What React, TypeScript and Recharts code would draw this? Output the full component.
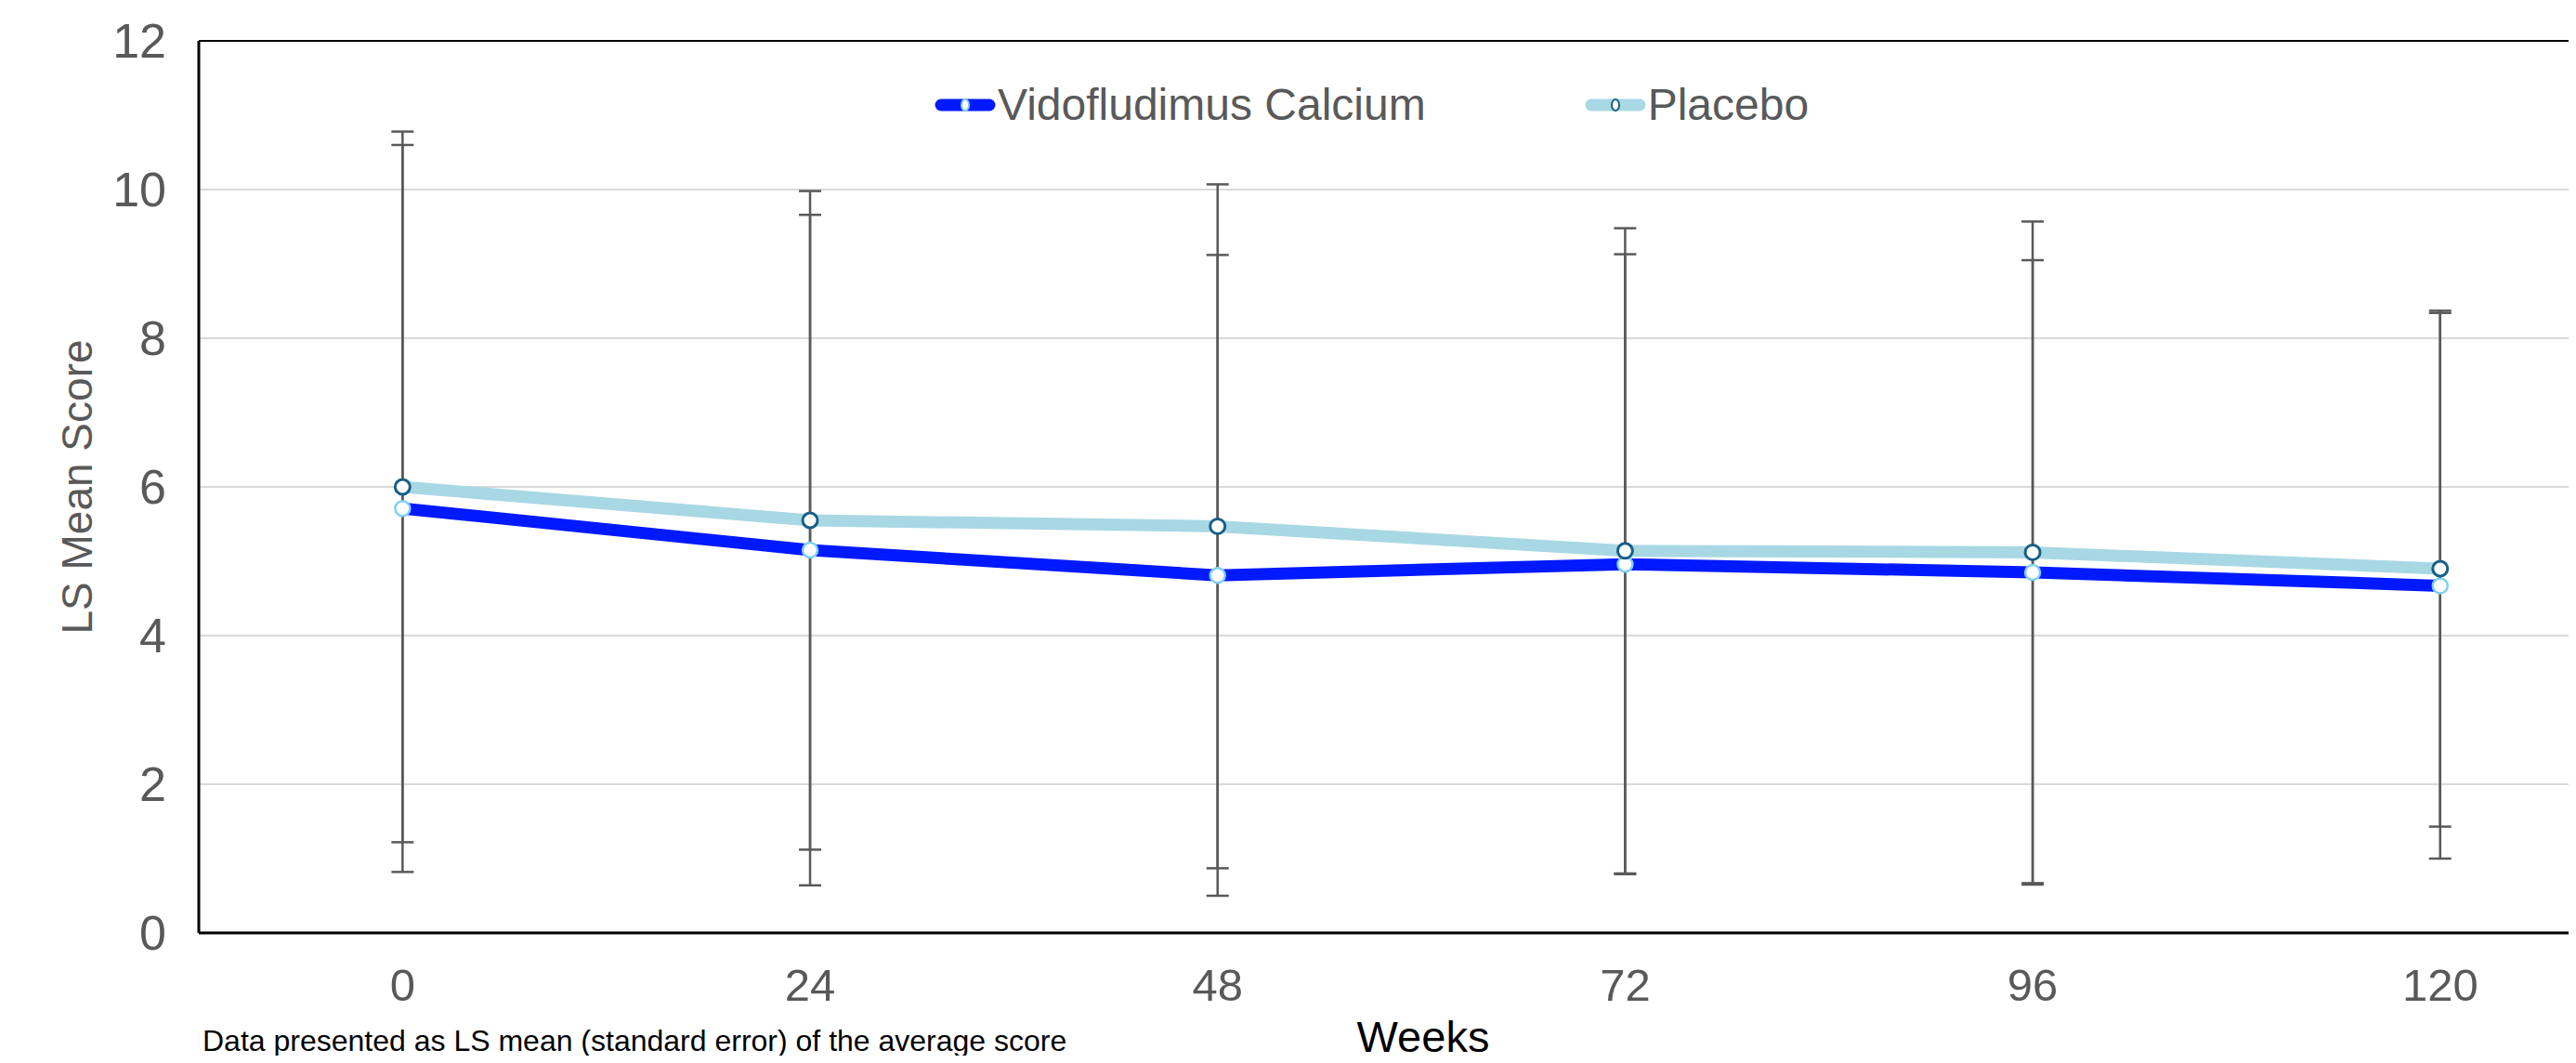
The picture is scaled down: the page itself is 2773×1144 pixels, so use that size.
import {
  LineChart,
  Line,
  XAxis,
  YAxis,
  CartesianGrid,
  ErrorBar,
  Legend,
  ReferenceLine,
} from "recharts";

const weeks = [0, 24, 48, 72, 96, 120];
const vidoMean = [5.71, 5.15, 4.81, 4.96, 4.85, 4.67];
const vidoSE = [4.89, 4.51, 4.31, 4.17, 4.2, 3.67];
const placeboMean = [6.0, 5.55, 5.47, 5.14, 5.12, 4.9];
const placeboSE = [4.78, 4.43, 4.6, 4.34, 4.45, 3.47];
const yTicks = [0, 2, 4, 6, 8, 10, 12];

const VIDO = "Vidofludimus Calcium";
const PLACEBO = "Placebo";

const FONT = "'Liberation Sans', Arial, sans-serif";
const GREY = "#595959";

const chartData = weeks.map((week, i) => ({
  week,
  vido: vidoMean[i],
  vidoErr: vidoSE[i],
  placebo: placeboMean[i],
  placeboErr: placeboSE[i],
}));

const legendItems = [
  { name: VIDO, color: "#0019ff", dotStroke: "#7fd0f0" },
  { name: PLACEBO, color: "#a8d8e4", dotStroke: "#1a5f85" },
];

const renderLegend = () => (
  <div style={{ display: "flex", alignItems: "center", gap: 171 }}>
    {legendItems.map((item) => (
      <div key={item.name} style={{ display: "flex", alignItems: "center" }}>
        <svg width={66} height={22}>
          <line
            x1={7}
            y1={11}
            x2={59}
            y2={11}
            stroke={item.color}
            strokeWidth={13}
            strokeLinecap="round"
          />
          <ellipse
            cx={33}
            cy={11}
            rx={4}
            ry={6}
            fill="#fff"
            stroke={item.dotStroke}
            strokeWidth={2}
          />
        </svg>
        <span
          style={{
            fontFamily: FONT,
            fontSize: 48,
            color: GREY,
            marginLeft: 2,
            lineHeight: "52px",
          }}
        >
          {item.name}
        </span>
      </div>
    ))}
  </div>
);

export default function App() {
  return (
    <div style={{ position: "relative", width: 2765, height: 1136, marginTop: -8 }}>
      <LineChart
        width={2765}
        height={1136}
        data={chartData}
        margin={{ top: 44, right: 0, left: 56, bottom: 52 }}
      >
        <CartesianGrid vertical={false} stroke="#d9d9d9" strokeWidth={2} />
        <ReferenceLine y={12} stroke="#000" strokeWidth={2} />
        <XAxis
          dataKey="week"
          type="number"
          domain={[-12, 128]}
          ticks={weeks}
          height={80}
          axisLine={{ stroke: "#000", strokeWidth: 3 }}
          tickLine={false}
          tickSize={0}
          tickMargin={38}
          tick={{ fill: GREY, fontSize: 49, fontFamily: FONT }}
        />
        <YAxis
          domain={[0, 12]}
          ticks={yTicks}
          width={150}
          axisLine={{ stroke: "#000", strokeWidth: 3 }}
          tickLine={false}
          tickSize={0}
          tickMargin={35}
          tick={{ fill: GREY, fontSize: 52, fontFamily: FONT }}
          label={{
            value: "LS Mean Score",
            angle: -90,
            position: "center",
            dx: -56,
            fill: GREY,
            fontSize: 46,
            fontFamily: FONT,
          }}
        />
        <Legend
          layout="horizontal"
          verticalAlign="middle"
          align="center"
          content={renderLegend}
          wrapperStyle={{ position: "absolute", top: 87, left: 998, width: 1200 }}
        />
        <Line
          dataKey="vido"
          name={VIDO}
          type="linear"
          stroke="#0019ff"
          strokeWidth={13}
          dot={{ r: 8, fill: "#fff", stroke: "#7fd0f0", strokeWidth: 2.5 }}
          isAnimationActive={false}
        >
          <ErrorBar
            dataKey="vidoErr"
            direction="y"
            width={12}
            stroke={GREY}
            strokeWidth={2.5}
            isAnimationActive={false}
          />
        </Line>
        <Line
          dataKey="placebo"
          name={PLACEBO}
          type="linear"
          stroke="#a8d8e4"
          strokeWidth={13}
          dot={{ r: 8, fill: "#fff", stroke: "#1a5f85", strokeWidth: 3 }}
          isAnimationActive={false}
        >
          <ErrorBar
            dataKey="placeboErr"
            direction="y"
            width={12}
            stroke={GREY}
            strokeWidth={2.5}
            isAnimationActive={false}
          />
        </Line>
      </LineChart>
      {/* axis title and footnote sit below the svg edge, so they are plain HTML */}
      <div
        style={{
          position: "absolute",
          left: 1424,
          width: 200,
          textAlign: "center",
          top: 1090,
          fontFamily: FONT,
          fontSize: 47,
          lineHeight: "52px",
          color: "#000",
        }}
      >
        Weeks
      </div>
      <div
        style={{
          position: "absolute",
          left: 210,
          top: 1104,
          fontFamily: FONT,
          fontSize: 32,
          lineHeight: "32px",
          color: "#000",
          whiteSpace: "nowrap",
        }}
      >
        Data presented as LS mean (standard error) of the average score
      </div>
    </div>
  );
}
